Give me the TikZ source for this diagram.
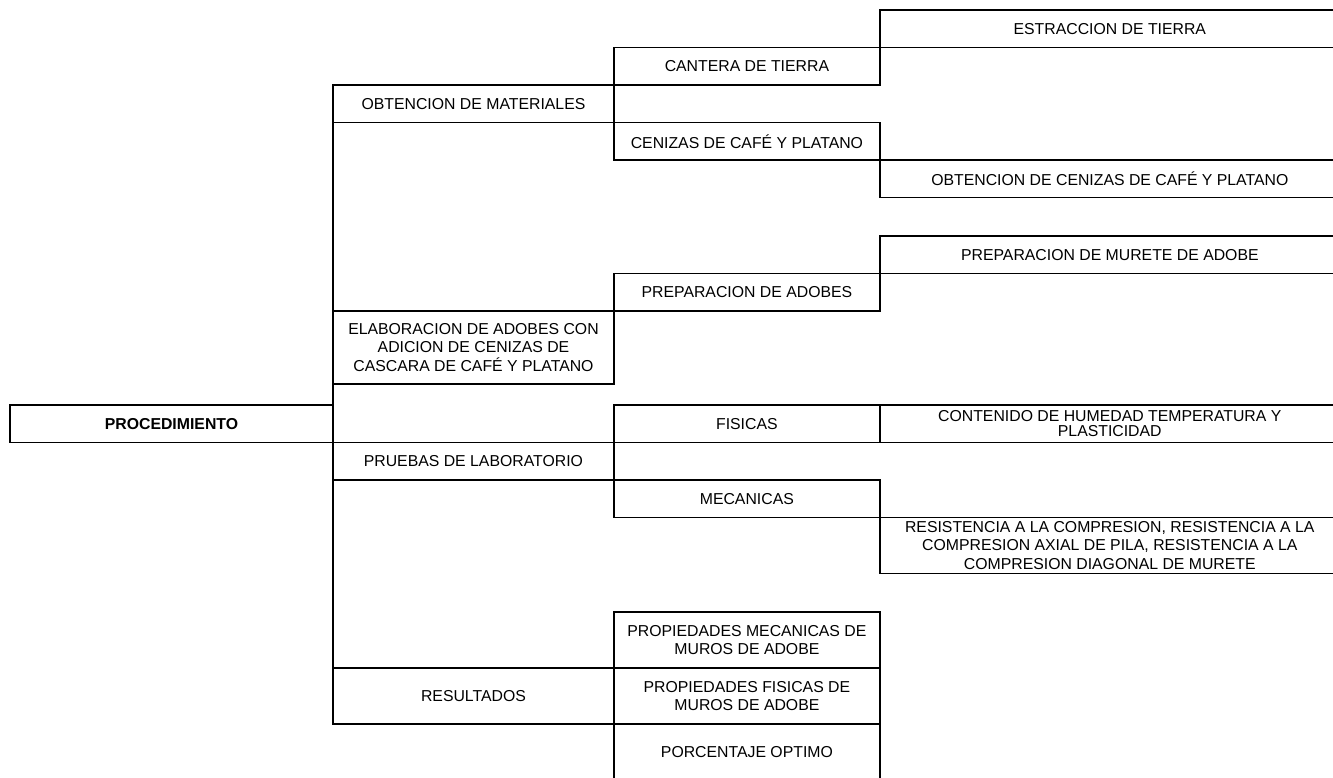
\documentclass[tikz,border=0pt]{standalone}
\usepackage{fontspec}
\setmainfont{Liberation Sans}
\usetikzlibrary{positioning}

\begin{document}
\begin{tikzpicture}[
    x=0.02cm, y=-0.02cm,
    every node/.style={font=\fontsize{9}{10.5}\selectfont},
    box/.style={draw, line width=1.1pt, inner sep=1pt, outer sep=0pt, align=center, minimum height=0.75cm},
    lvlone/.style={box, minimum width=6.46cm},
    lvltwo/.style={box, minimum width=5.62cm},
    lvlthree/.style={box, minimum width=5.32cm},
    lvlfour/.style={box, minimum width=9.2cm},
    node distance=0pt
]

\clip (0,0) rectangle (1333,778);

\node[lvlone, font=\fontsize{9}{10.5}\selectfont\bfseries, anchor=north west] (proc) at (10,405) {PROCEDIMIENTO};

% obtencion de materiales
\node[lvltwo, anchor=north west] (obtmat) at (333,85) {OBTENCION DE MATERIALES};
\node[lvlthree, above right=of obtmat.north east] (cantera) {CANTERA DE TIERRA};
\node[lvlfour, above right=of cantera.north east] (estraccion) {ESTRACCION DE TIERRA};
\node[lvlthree, below right=of obtmat.south east] (cenizas) {CENIZAS DE CAFÉ Y PLATANO};
\node[lvlfour, below right=of cenizas.south east] (obtcenizas) {OBTENCION DE CENIZAS DE CAFÉ Y PLATANO};

% elaboracion
\node[lvltwo, minimum height=1.46cm, anchor=north west] (elab) at (333,311) {ELABORACION DE ADOBES CON\\ADICION DE CENIZAS DE\\CASCARA DE CAFÉ Y PLATANO};
\node[lvlthree, above right=of elab.north east] (prepadobes) {PREPARACION DE ADOBES};
\node[lvlfour, above right=of prepadobes.north east] (murete) {PREPARACION DE MURETE DE ADOBE};

% pruebas
\node[lvltwo, below right=of proc.south east] (pruebas) {PRUEBAS DE LABORATORIO};
\node[lvlthree, above right=of pruebas.north east] (fisicas) {FISICAS};
\node[lvlfour, right=of fisicas, font=\fontsize{9}{8.5}\selectfont] (contenido) {CONTENIDO DE HUMEDAD TEMPERATURA Y\\PLASTICIDAD};
\node[lvlthree, below right=of pruebas.south east] (mecanicas) {MECANICAS};
\node[lvlfour, minimum height=1.12cm, below right=of mecanicas.south east] (resistencia) {RESISTENCIA A LA COMPRESION, RESISTENCIA A LA\\COMPRESION AXIAL DE PILA, RESISTENCIA A LA\\COMPRESION DIAGONAL DE MURETE};

% resultados
\node[lvltwo, minimum height=1.12cm, anchor=north west] (resultados) at (333,668) {RESULTADOS};
\node[lvlthree, minimum height=1.12cm, above right=of resultados.north east] (propmec) {PROPIEDADES MECANICAS DE\\MUROS DE ADOBE};
\node[lvlthree, minimum height=1.12cm, right=of resultados] (propfis) {PROPIEDADES FISICAS DE\\MUROS DE ADOBE};
\node[lvlthree, minimum height=1.12cm, below right=of resultados.south east] (porcentaje) {PORCENTAJE OPTIMO};

\draw[line width=1.1pt] (obtmat.north west) -- (resultados.south west);

\end{tikzpicture}
\end{document}
